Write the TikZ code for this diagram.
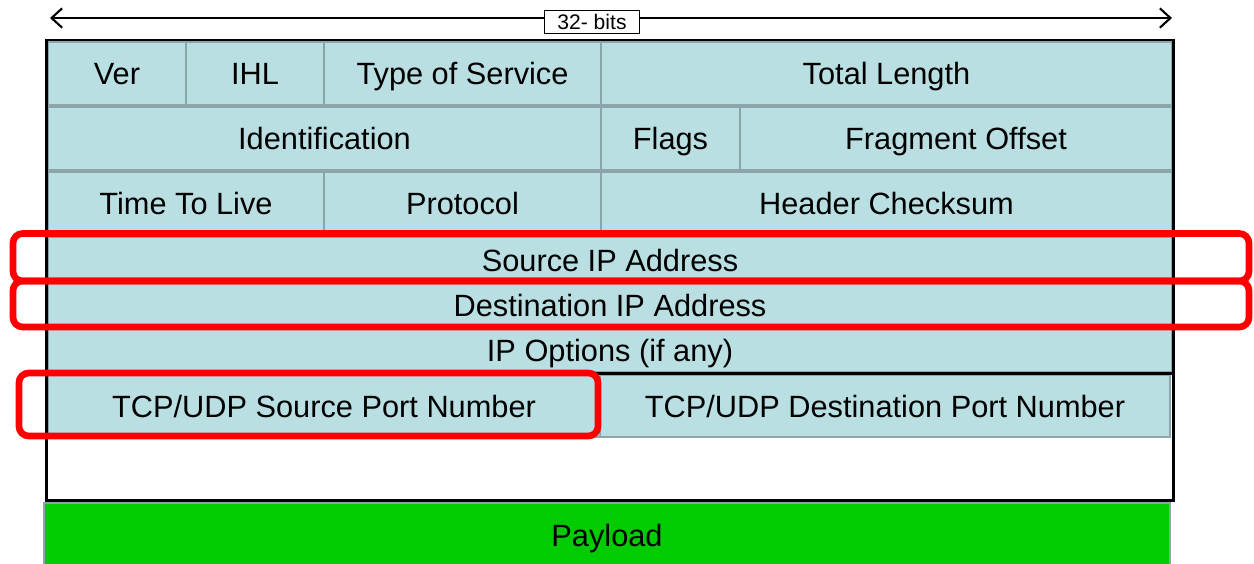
\documentclass[tikz,border=0pt]{standalone}
\usepackage{fontspec}
\setmainfont{Liberation Sans}
\definecolor{hdrblue}{RGB}{185,223,227}
\definecolor{hdrline}{RGB}{140,165,168}
\definecolor{hlred}{RGB}{255,0,0}
\definecolor{paygreen}{RGB}{0,204,0}
\usetikzlibrary{arrows.meta,positioning,calc}

\begin{document}
\begin{tikzpicture}[x=0.2mm, y=-0.2mm,
  field/.style={rectangle, draw=hdrline, line width=1.5pt, fill=hdrblue,
                inner sep=0pt, outer sep=0pt, align=center,
                text height=12.6pt, text depth=0pt,
                font=\fontsize{17.5}{21}\selectfont},
  framebox/.style={rectangle, draw=black, line width=1.7pt,
                   inner sep=0pt, outer sep=0pt},
  hlbox/.style={rectangle, rounded corners=5.5pt, draw=hlred, line width=3.8pt,
                inner sep=0pt, outer sep=0pt},
  arr/.style={{Straight Barb[length=6pt,width=11pt]}-{Straight Barb[length=6pt,width=11pt]}, line width=1.2pt}
]
\useasboundingbox (0,0) rectangle (1254,563);

% Width marker
\coordinate (wl) at (50,18);
\coordinate (wr) at (1172,18);
\draw[arr] (wl) -- (wr);
\node[rectangle, draw=black, fill=white, line width=0.8pt, minimum width=19mm,
      minimum height=4.6mm, inner sep=0pt, font=\fontsize{12}{14}\selectfont]
      (bits) at (592,22) {32- bits};

% Row 1
\node[field, minimum width=27.6mm, minimum height=12.6mm] (ver) at (117,73.5) {Ver};
\node[field, minimum width=27.6mm, minimum height=12.6mm] (ihl) at (255,73.5) {IHL};
\node[field, minimum width=55.4mm, minimum height=12.6mm] (tos) at (462.5,73.5) {Type of Service};
\node[field, minimum width=114.2mm, minimum height=12.6mm] (len) at (886.5,73.5) {Total Length};

% Row 2
\node[field, minimum width=110.6mm, minimum height=12.6mm] (ident) at (324.5,138.5) {Identification};
\node[field, minimum width=27.8mm, minimum height=12.6mm] (flags) at (670.5,138.5) {Flags};
\node[field, minimum width=86.4mm, minimum height=12.6mm] (frag) at (956,138.5) {Fragment Offset};

% Row 3
\node[field, minimum width=55.2mm, minimum height=12.6mm] (ttl) at (186,203.5) {Time To Live};
\node[field, minimum width=55.4mm, minimum height=12.6mm] (proto) at (462.5,203.5) {Protocol};
\node[field, minimum width=114.2mm, minimum height=12.6mm] (csum) at (886.5,203.5) {Header Checksum};

% Addresses and options
\node[field, minimum width=224.8mm, minimum height=9.2mm] (srcip) at (610,260) {Source IP Address};
\node[field, minimum width=224.8mm, minimum height=9.0mm] (dstip) at (610,305.5) {Destination IP Address};
\node[field, minimum width=224.8mm, minimum height=8.8mm] (opts) at (610,350) {IP Options (if any)};

% Ports
\node[field, minimum width=110.4mm, minimum height=12.4mm] (sport) at (324,406) {TCP/UDP Source Port Number};
\node[field, minimum width=114.0mm, minimum height=12.4mm] (dport) at (885,406) {TCP/UDP Destination Port Number};

% Frames
\node[framebox, minimum width=225.2mm, minimum height=66.6mm] (hdr) at (610,206.5) {};
\node[framebox, minimum width=225.2mm, minimum height=25.4mm] (seg) at (610,436.5) {};

% Payload
\node[field, fill=paygreen, minimum width=225.2mm, minimum height=12.8mm] (payload) at (607,535) {Payload};

% Highlights
\node[hlbox, minimum width=247.2mm, minimum height=9.5mm] (srcmark) at (631,257.25) {};
\node[hlbox, minimum width=247.2mm, minimum height=9.2mm] (dstmark) at (631,304) {};
\node[hlbox, minimum width=115.8mm, minimum height=12.6mm] (portmark) at (308.5,404.5) {};
\end{tikzpicture}
\end{document}
